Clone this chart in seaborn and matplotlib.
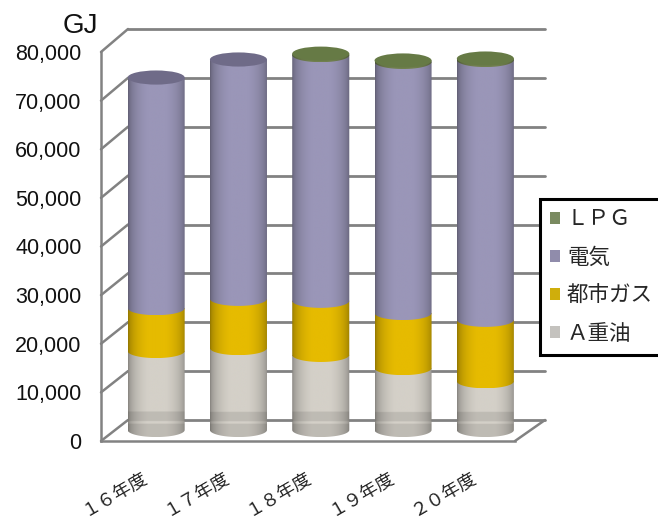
import numpy as np
import matplotlib
matplotlib.use("Agg")
import matplotlib.pyplot as plt
import seaborn as sns
from matplotlib.patches import ConnectionPatch, Ellipse, Patch, PathPatch
from matplotlib.path import Path
from matplotlib.ticker import FuncFormatter
from matplotlib.colors import to_rgb
from matplotlib.transforms import ScaledTranslation

years = ["１６年度", "１７年度", "１８年度", "１９年度", "２０年度"]
a_oil = [16200, 16800, 15400, 12700, 10000]
city_gas = [8800, 10100, 11100, 11300, 12600]
electricity = [47300, 49100, 50400, 51500, 53300]
lpg = [0, 0, 300, 300, 300]
series_names = ["Ａ重油", "都市ガス", "電気", "ＬＰＧ"]
series_colors = ["#d4d0c8", "#e6bb00", "#9a96b8", "#71804f"]
legend_colors = ["#c4c2be", "#cfae0c", "#908cab", "#7a8a60"]
top_colors = ["#b0aeaa", "#b89a00", "#6f6b88", "#667a45"]
y_ticks = [0, 10000, 20000, 30000, 40000, 50000, 60000, 70000, 80000]

W, H = 658, 520
sns.set_theme(style="white")
plt.rcParams["font.family"] = ["Liberation Sans", "Noto Sans CJK JP", "DejaVu Sans"]
fig = plt.figure(figsize=(W / 100, H / 100), dpi=100)


def px_axes(l, r, b, t, z):
    a = fig.add_axes([l / W, 1 - b / H, (r - l) / W, (b - t) / H], zorder=z)
    a.patch.set_visible(False)
    return a


GRID = "#828282"
back = px_axes(128, 545, 420, 29, 0)
front = px_axes(101, 515, 441, 52, 1)
bars = px_axes(115, 526.5, 437.3, 40, 2)

for a in (back, front):
    a.set_ylim(0, 80000)
    a.set_xlim(0, 1)
    a.set_yticks(y_ticks)
    a.set_xticks([])

back.grid(axis="y", color=GRID, lw=2.0)
for ln in back.get_ygridlines():
    ln.set_clip_on(False)
back.tick_params(left=False, labelleft=False)
for s in back.spines.values():
    s.set_visible(False)

front.yaxis.set_major_formatter(FuncFormatter(lambda v, _: f"{int(v):,}"))
front.tick_params(axis="y", left=False, pad=8, labelsize=15.5, labelcolor="#111111")
for k, s in front.spines.items():
    s.set_visible(k in ("left", "bottom"))
    s.set_color(GRID)
    s.set_linewidth(1.8)


def link(xa, va, xb, vb, lw=1.8):
    fig.add_artist(ConnectionPatch((xa, va), (xb, vb),
                                   coordsA=front.get_yaxis_transform(),
                                   coordsB=back.get_yaxis_transform(),
                                   color=GRID, lw=lw, zorder=0.5))


for v in y_ticks:
    link(0, v, 0, v)
link(1, 0, 1, 0)

values = [a_oil, city_gas, electricity, lpg]
bottom = np.zeros(len(years))
EH = 1450  # half height of the cylinder ellipse, in value units
w = 0.693
bars.set_xlim(-0.5, 4.5)
bars.set_ylim(-1500, 80000)

t = np.linspace(-1, 1, 200)
shade = np.clip(0.60 + 0.42 * np.sqrt(1 - t ** 2), 0, 1.0)
top_series = [None] * len(years)

for i, vals in enumerate(values):
    vals = np.array(vals, float)
    sns.barplot(x=years, y=vals, bottom=bottom, color=series_colors[i], saturation=1,
                width=w, errorbar=None, ax=bars, zorder=1)
    rects = bars.containers[-1]
    for j, r in enumerate(rects):
        if vals[j] <= 0:
            r.set_visible(False)
            continue
        top_series[j] = i
        x0, y0, rw, rh = r.get_x(), r.get_y(), r.get_width(), r.get_height()
        r.set_visible(False)
        th = np.linspace(np.pi, 2 * np.pi, 60)
        xs = x0 + rw / 2 + rw / 2 * np.cos(th)
        ys = y0 + EH * np.sin(th)
        verts = list(zip(xs, ys)) + [(x0 + rw, y0 + rh), (x0, y0 + rh), (xs[0], ys[0])]
        codes = [Path.MOVETO] + [Path.LINETO] * (len(verts) - 2) + [Path.CLOSEPOLY]
        clip = PathPatch(Path(verts, codes), transform=bars.transData, fc="none", ec="none")
        bars.add_patch(clip)
        rows = np.linspace(y0 + rh, y0 - EH, 300)
        vshade = np.where(rows < 3700, 0.9, 1.0)   # darker band near the floor
        vshade = np.where(np.abs(rows - 1500) < 250, 1.0, vshade)
        img = (np.array(to_rgb(series_colors[i]))[None, None, :]
               * shade[None, :, None] * vshade[:, None, None])
        im = bars.imshow(np.clip(img, 0, 1), extent=(x0, x0 + rw, y0 - EH, y0 + rh),
                         aspect="auto", zorder=3 + i, interpolation="bilinear")
        im.set_clip_path(clip)
    bottom = bottom + vals

for j, r_top in enumerate(bottom):
    bars.add_patch(Ellipse((j, r_top), w, 2 * EH, fc=top_colors[top_series[j]], ec="none", zorder=9))

bars.set_xlim(-0.5, 4.5)
bars.set_ylim(-1500, 80000)
bars.set_yticks([])
bars.set_ylabel("")
bars.set_xticks(range(len(years)))
bars.set_xticklabels(years, rotation=30, ha="right", rotation_mode="anchor",
                     fontsize=13, color="#222222")
bars.tick_params(axis="x", bottom=False, pad=16)
shift = ScaledTranslation(-15 / 100, 0, fig.dpi_scale_trans)
for lab in bars.get_xticklabels():
    lab.set_fontfamily(["Noto Sans CJK JP", "DejaVu Sans"])
    lab.set_transform(lab.get_transform() + shift)
for s in bars.spines.values():
    s.set_visible(False)

fig.text(63 / W, 1 - 33 / H, "GJ", fontsize=20, color="#111111", ha="left", va="baseline")

handles = [Patch(fc=legend_colors[i], ec="none", label=series_names[i]) for i in [3, 2, 1, 0]]
leg = fig.legend(handles=handles, loc="lower left", bbox_to_anchor=(540 / W, 1 - 354.5 / H),
                 frameon=True, fancybox=False, edgecolor="black", framealpha=1,
                 handlelength=0.5, handleheight=0.5, handletextpad=0.3,
                 labelspacing=0.75, borderpad=0.45, borderaxespad=0,
                 prop={"family": ["Noto Sans CJK JP", "DejaVu Sans"], "size": 15.5})
leg.get_frame().set_linewidth(2.2)
leg.set_zorder(20)

fig.savefig("out.png", dpi=100)
